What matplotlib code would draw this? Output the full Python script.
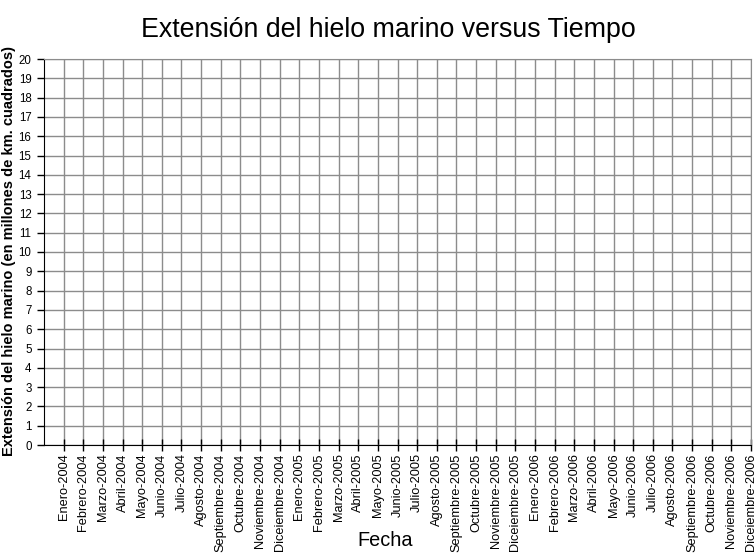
import matplotlib
matplotlib.use('Agg')
import matplotlib.pyplot as plt

plt.rcParams['font.family'] = ['Liberation Sans', 'DejaVu Sans']

# the sheet has no series filled in yet, only the category axis
meses = ['Enero', 'Febrero', 'Marzo', 'Abril', 'Mayo', 'Junio', 'Julio',
         'Agosto', 'Septiembre', 'Octubre', 'Noviembre', 'Diceiembre']
anios = [2004, 2005, 2006]
fechas = ['%s-%d' % (m, a) for a in anios for m in meses]
y_ticks = list(range(0, 21))
extension = []  # sin datos

fig = plt.figure(figsize=(7.56, 5.53), dpi=100)
ax = fig.add_axes([44 / 756, 1 - 445 / 553, 707 / 756, 386 / 553])

pos = list(range(1, len(fechas) + 1))
if extension:
    ax.plot(pos[:len(extension)], extension, color='navy', marker='D')

ax.set_xlim(0, len(fechas))
ax.set_ylim(0, 20)
ax.set_xticks(pos)
ax.set_xticklabels(fechas, rotation=90, fontsize=9.2)
ax.set_yticks(y_ticks)
ax.set_yticklabels([str(v) for v in y_ticks], fontsize=8.3)

ax.grid(True, color='#8c8c8c', lw=1)
ax.set_axisbelow(True)
for s in ['top', 'right']:
    ax.spines[s].set_color('#8c8c8c')
for s in ['left', 'bottom']:
    ax.spines[s].set_color('black')
ax.tick_params(axis='x', direction='inout', length=8, width=1, pad=2)
ax.tick_params(axis='y', direction='out', length=5, width=1, pad=4)

fig.text(388 / 756, 1 - 30 / 553, 'Extensión del hielo marino versus Tiempo',
         ha='center', va='center', fontsize=19.3)
fig.text(385 / 756, 1 - 540 / 553, 'Fecha', ha='center', va='center', fontsize=14.3)
fig.text(9 / 756, 1 - 251 / 553,
         'Extensión del hielo marino (en millones de km. cuadrados)',
         rotation=90, ha='center', va='center', fontsize=10.5, fontweight='bold')

fig.savefig('out.png', dpi=100)
